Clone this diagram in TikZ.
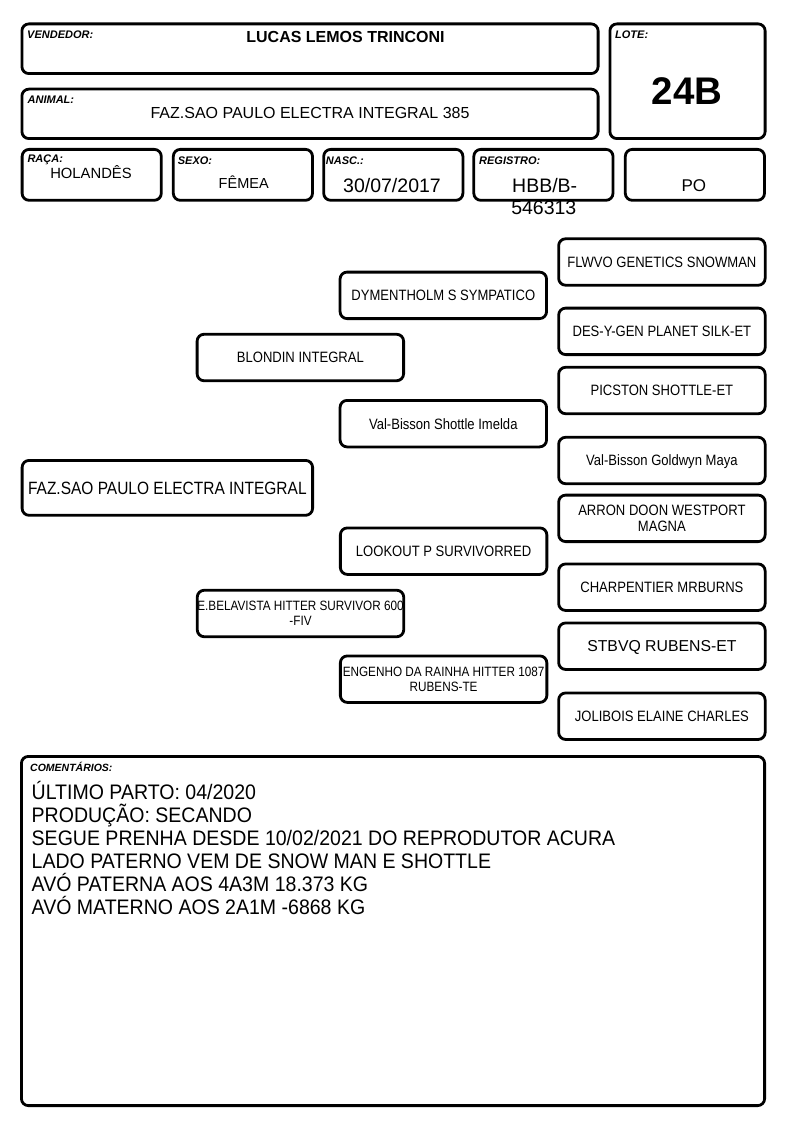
\documentclass[tikz,border=0pt]{standalone}
\usepackage{fontspec}
\setmainfont{Liberation Sans}
\newfontfamily\nomes{Liberation Sans}[FakeStretch=0.87]
\newfontfamily\notas{Liberation Sans}[FakeStretch=0.93]

\begin{document}
\begin{tikzpicture}[x=1pt, y=-1pt,
  caixa/.style={draw, rectangle, rounded corners=7pt, line width=2.8pt, inner sep=0pt},
  cabec/.style={caixa, minimum width=139.2pt, minimum height=50.9pt},
  arvore/.style={caixa, minimum width=206.5pt, minimum height=46.5pt, align=center, font=\nomes\fontsize{15}{16}\selectfont},
  linha/.style={arvore, text height=10.7pt, text depth=0pt},
  rotulo/.style={anchor=base west, inner sep=0pt, font=\fontsize{11}{12}\selectfont\bfseries\itshape},
  valor/.style={anchor=base, inner sep=0pt}]
  \useasboundingbox (0,0) rectangle (794,1123);

  % cabecalho
  \node[caixa, minimum width=576.2pt, minimum height=49.7pt] (vendedor) at (310,48.75) {};
  \node[caixa, minimum width=155.2pt, minimum height=114.7pt] (lote) at (687.5,81.25) {};
  \node[caixa, minimum width=576.2pt, minimum height=49.5pt] (animal) at (310,113.85) {};
  \node[cabec] (raca) at (91.7,174.85) {};
  \node[cabec] (sexo) at (242.9,174.85) {};
  \node[cabec] (nasc) at (393.3,174.85) {};
  \node[cabec] (registro) at (543.4,174.85) {};
  \node[cabec] (categoria) at (694.9,174.85) {};

  \node[rotulo] (tvendedor) at (27,39) {VENDEDOR:};
  \node[rotulo] (tlote) at (615,39) {LOTE:};
  \node[rotulo] (tanimal) at (27.5,103.5) {ANIMAL:};
  \node[rotulo] (traca) at (27.3,163) {RAÇA:};
  \node[rotulo] (tsexo) at (177.7,165) {SEXO:};
  \node[rotulo] (tnasc) at (325.7,165) {NASC.:};
  \node[rotulo] (tregistro) at (479,165) {REGISTRO:};

  \node[valor, font=\fontsize{16}{18}\selectfont\bfseries] (vvendedor) at (345.5,42.4) {LUCAS LEMOS TRINCONI};
  \node[valor, font=\fontsize{38.5}{40}\selectfont\bfseries] (vlote) at (687.2,104.6) {24B};
  \node[valor, font=\fontsize{16}{18}\selectfont] (vanimal) at (310,119) {FAZ.SAO PAULO ELECTRA INTEGRAL 385};
  \node[valor, font=\fontsize{14.8}{17}\selectfont] (vraca) at (91,178.3) {HOLANDÊS};
  \node[valor, font=\fontsize{14.5}{17}\selectfont] (vsexo) at (243.7,189) {FÊMEA};
  \node[valor, font=\fontsize{19.5}{22}\selectfont] (vnasc) at (392,192.2) {30/07/2017};
  \node[valor, font=\fontsize{19.5}{22}\selectfont] (vregistro) at (544.7,192.3) {HBB/B-};
  \node[valor, font=\fontsize{19.5}{22}\selectfont] (vregistro2) at (543.8,214.3) {546313};
  \node[valor, font=\fontsize{17}{20}\selectfont] (vcategoria) at (693.8,191.9) {PO};

  % genealogia
  \node[caixa, minimum width=290.5pt, minimum height=54.9pt, font=\nomes\fontsize{17.8}{20}\selectfont, text height=12.7pt, text depth=0pt] (proprio) at (167.35,487.85) {FAZ.SAO PAULO ELECTRA INTEGRAL};

  \node[linha] (pai) at (300.35,357.5) {BLONDIN INTEGRAL};
  \node[arvore, font=\nomes\fontsize{13.5}{15}\selectfont] (mae) at (300.5,613.5) {\makebox[200pt]{E.BELAVISTA HITTER SURVIVOR 600}\\-FIV};

  \node[linha] (avop) at (443.3,295.35) {DYMENTHOLM S SYMPATICO};
  \node[linha] (avap) at (443.3,423.65) {Val-Bisson Shottle Imelda};
  \node[linha] (avom) at (443.6,551.15) {LOOKOUT P SURVIVORRED};
  \node[arvore, font=\nomes\fontsize{13.5}{15}\selectfont] (avam) at (443.6,679.15) {\makebox[200pt]{ENGENHO DA RAINHA HITTER 1087}\\RUBENS-TE};

  \node[linha] (bisa1) at (661.9,262) {FLWVO GENETICS SNOWMAN};
  \node[linha] (bisa2) at (661.9,331.35) {DES-Y-GEN PLANET SILK-ET};
  \node[linha] (bisa3) at (661.9,390.5) {PICSTON SHOTTLE-ET};
  \node[linha] (bisa4) at (661.9,460.5) {Val-Bisson Goldwyn Maya};
  \node[arvore] (bisa5) at (661.9,518.35) {ARRON DOON WESTPORT\\MAGNA};
  \node[linha] (bisa6) at (661.9,587.2) {CHARPENTIER MRBURNS};
  \node[linha, font=\fontsize{15.8}{18}\selectfont, text height=11.3pt] (bisa7) at (661.9,646.2) {STBVQ RUBENS-ET};
  \node[linha] (bisa8) at (661.9,716.2) {JOLIBOIS ELAINE CHARLES};

  % comentarios
  \node[caixa, minimum width=743.2pt, minimum height=349.2pt] (comentarios) at (393,931) {};
  \node[rotulo, font=\fontsize{10.5}{12}\selectfont\bfseries\itshape] (tcomentarios) at (30,771) {COMENTÁRIOS:};
  \foreach \texto [count=\i] in {ÚLTIMO PARTO: 04/2020, PRODUÇÃO: SECANDO,
      SEGUE PRENHA DESDE 10/02/2021 DO REPRODUTOR ACURA,
      LADO PATERNO VEM DE SNOW MAN E SHOTTLE,
      AVÓ PATERNA AOS 4A3M 18.373 KG, AVÓ MATERNO AOS 2A1M -6868 KG}
    \node[anchor=base west, inner sep=0pt, font=\notas\fontsize{21}{23}\selectfont] (coment\i) at (31.5,{799.2+23*(\i-1)}) {\texto};
\end{tikzpicture}
\end{document}
